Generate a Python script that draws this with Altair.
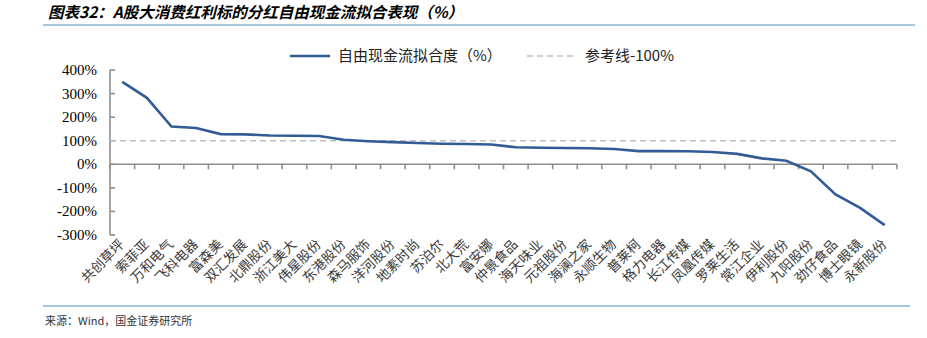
import altair as alt
import pandas as pd

companies = ["共创草坪", "索菲亚", "万和电气", "飞科电器", "富森美", "双汇发展", "北鼎股份", "浙江美大",
             "伟星股份", "东港股份", "森马服饰", "洋河股份", "地素时尚", "苏泊尔", "北大荒", "富安娜",
             "仲景食品", "海天味业", "元祖股份", "海澜之家", "永顺生物", "普莱柯", "格力电器", "长江传媒",
             "凤凰传媒", "罗莱生活", "常江企业", "伊利股份", "九阳股份", "劲仔食品", "博士眼镜", "永新股份"]
fit_values = [350, 282, 160, 154, 128, 127, 122, 121, 120, 104, 98, 94, 90, 87, 86, 84,
              72, 70, 69, 68, 65, 56, 56, 55, 52, 44, 25, 15, -30, -128, -185, -258]
ref_level = 100
y_ticks = [-300, -200, -100, 0, 100, 200, 300, 400]

title_text = "图表32：A股大消费红利标的分红自由现金流拟合表现（%）"
legend_line = "自由现金流拟合度（%）"
legend_ref = "参考线-100%"
source_text = "来源：Wind，国金证券研究所"

df = pd.DataFrame({"company": companies, "fit": fit_values})
tick_df = pd.DataFrame({"v": y_ticks, "lab": [f"{v}%" for v in y_ticks]})
edge_df = pd.DataFrame({"company": companies})
one = pd.DataFrame({"a": [0]})

W, H = 787, 165
LINE_C = "#335C96"
AXIS_C = "#8F8F8F"
CJK = "Noto Sans CJK SC"

xscale = alt.Scale(type="band", paddingInner=0, paddingOuter=0)
yscale = alt.Scale(domain=[-300, 400], nice=False, zero=False)

x_axis = alt.Axis(labelAngle=-45, labelAlign="right", labelBaseline="middle", labelFont=CJK,
                  labelFontSize=13.5, labelColor="#3a3a3a", labelPadding=7, ticks=False,
                  domain=False, title=None, labelOverlap=False)

x_enc = alt.X("company:N", sort=companies, scale=xscale, axis=x_axis)
x_tick = alt.X("company:N", sort=companies, scale=xscale, axis=x_axis, bandPosition=0)
y_enc = alt.Y("fit:Q", scale=yscale, axis=None)
Y0 = H * 400 / 700

zero_line = alt.Chart(pd.DataFrame({"fit": [0]})).mark_rule(
    color=AXIS_C, strokeWidth=1.6, strokeDash=[W, 1], opacity=1).encode(
    y=y_enc, x=alt.value(0), x2=alt.value(W))

y_domain = alt.Chart(one).mark_rule(
    color=AXIS_C, strokeWidth=1.6, strokeDash=[H, 1], opacity=1).encode(
    x=alt.value(0), y=alt.value(0), y2=alt.value(H))

y_inner_ticks = alt.Chart(tick_df).mark_rule(color=AXIS_C, strokeWidth=1.6, opacity=1).encode(
    y=alt.Y("v:Q", scale=yscale, axis=None), x=alt.value(0), x2=alt.value(5))

x_ticks = alt.Chart(edge_df).mark_rule(color=AXIS_C, strokeWidth=1.6, opacity=1).encode(
    x=x_tick, y=alt.value(Y0), y2=alt.value(Y0 + 5))
x_end_tick = alt.Chart(one).mark_rule(color=AXIS_C, strokeWidth=1.6, opacity=1).encode(
    x=alt.value(W), y=alt.value(Y0), y2=alt.value(Y0 + 5))

ref = alt.Chart(pd.DataFrame({"fit": [ref_level]})).mark_rule(
    color="#BFBFBF", strokeDash=[6, 4], strokeWidth=1.5).encode(
    y=y_enc, x=alt.value(0), x2=alt.value(W))

line = alt.Chart(df).mark_line(color=LINE_C, strokeWidth=2.6).encode(x=x_enc, y=y_enc)

y_labels = alt.Chart(tick_df).mark_text(font="Liberation Serif", fontSize=15, color="#000000",
                                        align="right", baseline="middle").encode(
    y=alt.Y("v:Q", scale=yscale, axis=None), x=alt.value(-13), text="lab:N")

title = alt.Chart(one).mark_text(font=CJK, fontSize=15.5, fontWeight="bold", fontStyle="italic",
                                 align="left", baseline="middle", color="#000000").encode(
    x=alt.value(-62), y=alt.value(-57), text=alt.value(title_text))

top_bar = alt.Chart(one).mark_rule(color="#A8C6DF", strokeWidth=2).encode(
    x=alt.value(-67), x2=alt.value(805), y=alt.value(-45))
bottom_bar = alt.Chart(one).mark_rule(color="#A8C6DF", strokeWidth=2).encode(
    x=alt.value(-67), x2=alt.value(800), y=alt.value(236))

source = alt.Chart(one).mark_text(font=CJK, fontSize=11, align="left", baseline="middle",
                                  color="#333333").encode(
    x=alt.value(-65), y=alt.value(252), text=alt.value(source_text))

leg_line = alt.Chart(one).mark_rule(color=LINE_C, strokeWidth=2.6).encode(
    x=alt.value(180), x2=alt.value(220), y=alt.value(-14))
leg_line_t = alt.Chart(one).mark_text(font=CJK, fontSize=15, align="left", baseline="middle",
                                      color="#222222").encode(
    x=alt.value(228), y=alt.value(-14), text=alt.value(legend_line))
leg_ref = alt.Chart(one).mark_rule(color="#BFBFBF", strokeDash=[6, 4], strokeWidth=1.5).encode(
    x=alt.value(417), x2=alt.value(463), y=alt.value(-14))
leg_ref_t = alt.Chart(one).mark_text(font=CJK, fontSize=15, align="left", baseline="middle",
                                     color="#222222").encode(
    x=alt.value(475), y=alt.value(-14), text=alt.value(legend_ref))

chart = alt.layer(
    zero_line, y_domain, y_inner_ticks, x_ticks, x_end_tick, ref, line, y_labels,
    title, top_bar, bottom_bar, source, leg_line, leg_line_t, leg_ref, leg_ref_t
).properties(
    width=W, height=H,
    padding={"left": 110, "top": 70, "right": 30, "bottom": 103},
    autosize=alt.AutoSizeParams(type="none"),
    background="white",
).configure_view(stroke=None)

chart.save("out.html", embed_options={"renderer": "svg", "actions": False})
